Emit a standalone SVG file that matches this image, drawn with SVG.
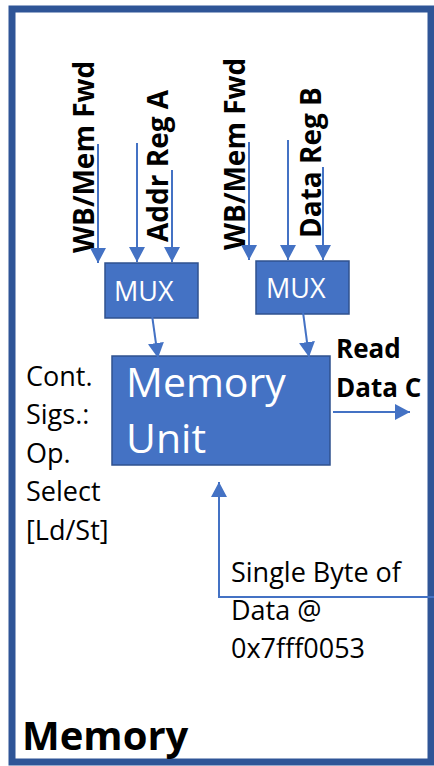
<svg xmlns="http://www.w3.org/2000/svg" width="434" height="766" viewBox="0 0 434 766">
<style>
.box{fill:#4472C4;stroke:#2F528F;stroke-width:1.5}
.wt{fill:#fff;font-family:"Open Sans","Liberation Sans",sans-serif}
.bt{fill:#000;font-family:"Open Sans","Liberation Sans",sans-serif}
.bold{font-weight:bold}
.con{stroke:#4472C4;stroke-width:2;fill:none}
</style>
<defs>
<marker id="ah" markerUnits="userSpaceOnUse" markerWidth="16" markerHeight="16" viewBox="0 0 16 16" refX="15" refY="8" orient="auto">
<path d="M0,0 L15,8 L0,16 Z" fill="#4472C4"/>
</marker>
</defs>
<rect x="0" y="0" width="434" height="766" fill="#fff"/>
<g id="frame">
<rect x="12" y="9" width="419" height="753" fill="#fff" stroke="#2F5597" stroke-width="7"/>
<text class="bt bold" x="22" y="750" font-size="40">Memory</text>
</g>
<g id="labels">
<text class="bt bold" font-size="28" transform="translate(94,253) rotate(-90)">WB/Mem Fwd</text>
<text class="bt bold" font-size="28" transform="translate(168,242) rotate(-90)">Addr Reg A</text>
<text class="bt bold" font-size="28" transform="translate(245,250) rotate(-90)">WB/Mem Fwd</text>
<text class="bt bold" font-size="28" transform="translate(321,238) rotate(-90)">Data Reg B</text>
<text class="bt" font-size="27" x="26" y="386">Cont.</text>
<text class="bt" font-size="27" x="26" y="424">Sigs.:</text>
<text class="bt" font-size="27" x="26" y="463">Op.</text>
<text class="bt" font-size="27" x="26" y="501">Select</text>
<text class="bt" font-size="27" x="26" y="540">[Ld/St]</text>
<text class="bt bold" font-size="26" x="336" y="358">Read</text>
<text class="bt bold" font-size="26" x="336" y="397">Data C</text>
<text class="bt" font-size="27" x="231" y="582">Single Byte of</text>
<text class="bt" font-size="27" x="231" y="620">Data @</text>
<text class="bt" font-size="27" x="231" y="658">0x7fff0053</text>
</g>
<g id="mux1">
<rect class="box" x="105" y="263" width="93" height="55"/>
<text class="wt" x="114" y="301" font-size="27">MUX</text>
</g>
<g id="mux2">
<rect class="box" x="256" y="261" width="93" height="53"/>
<text class="wt" x="266" y="298" font-size="27">MUX</text>
</g>
<g id="memory-unit">
<rect class="box" x="112" y="356" width="218" height="109"/>
<text class="wt" x="126" y="397" font-size="41">Memory</text>
<text class="wt" x="126" y="453" font-size="41">Unit</text>
</g>
<g id="connectors">
<line class="con" x1="98" y1="144" x2="98" y2="263" marker-end="url(#ah)"/>
<line class="con" x1="137" y1="143" x2="137" y2="262" marker-end="url(#ah)"/>
<line class="con" x1="172" y1="170" x2="172" y2="262" marker-end="url(#ah)"/>
<line class="con" x1="249" y1="142" x2="249" y2="260" marker-end="url(#ah)"/>
<line class="con" x1="288" y1="140" x2="288" y2="260" marker-end="url(#ah)"/>
<line class="con" x1="323" y1="167" x2="323" y2="260" marker-end="url(#ah)"/>
<line class="con" x1="152" y1="315" x2="158" y2="358" marker-end="url(#ah)"/>
<line class="con" x1="303" y1="312" x2="309" y2="357" marker-end="url(#ah)"/>
<line class="con" x1="333" y1="412" x2="410" y2="412" marker-end="url(#ah)"/>
<polyline class="con" points="434,597 219,597 219,482" marker-end="url(#ah)"/>
</g>
</svg>
